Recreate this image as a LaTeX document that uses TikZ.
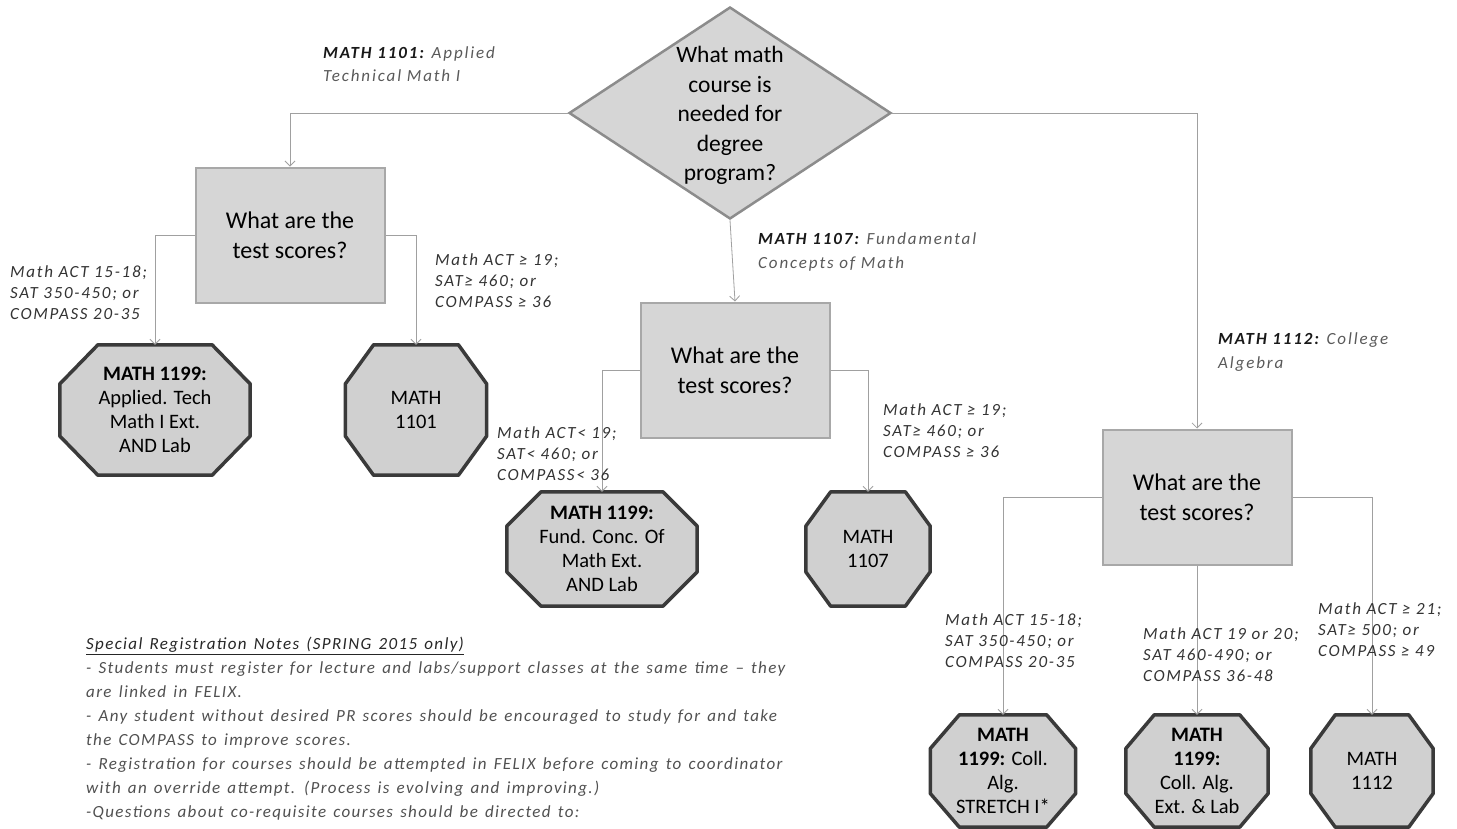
\documentclass[tikz,border=0pt]{standalone}
\usepackage{fontspec}
\setmainfont{Carlito}
\usetikzlibrary{shapes.geometric,arrows.meta,calc}
\pgfdeclarelayer{background}
\pgfsetlayers{background,main}
\definecolor{shade}{HTML}{D6D6D6}
\definecolor{octfill}{HTML}{D0D0D0}
\definecolor{octline}{HTML}{3A3A3A}
\definecolor{boxline}{HTML}{A8A8A8}
\definecolor{qline}{HTML}{8C8C8C}
\definecolor{wire}{HTML}{A0A0A0}
\definecolor{note}{HTML}{505050}
\tikzset{
  question/.style={diamond, draw=qline, line width=2.5pt, fill=shade, inner sep=0pt,
    minimum width=322pt, minimum height=212pt},
  scores/.style={rectangle, draw=boxline, line width=2pt, fill=shade, align=center,
    minimum width=189pt, minimum height=135pt, font=\fontsize{24}{29.5}\selectfont},
  stop/.style={rectangle, inner sep=0pt, align=center, font=\fontsize{20.5}{24}\selectfont},
  stopline/.style={draw=octline, line width=3.5pt, fill=octfill, line join=round},
  wire/.style={draw=wire, line width=0.8pt, -{Straight Barb[length=5pt,width=10pt]}},
  cond/.style={anchor=west, align=left, inner sep=0pt, text=black!80,
    font=\fontsize{17}{21}\selectfont\itshape\addfontfeature{LetterSpace=10}},
  course/.style={anchor=west, align=left, inner sep=0pt, text=black!65,
    font=\fontsize{17}{23.5}\selectfont\itshape\addfontfeature{LetterSpace=11}},
}
\begin{document}
\begin{tikzpicture}[x=1pt,y=-1pt]
  \useasboundingbox (0,0) rectangle (1457,828);
  % the first question
  \node[question] (q) at (730,113) {\smash{\makebox[0pt]{\raisebox{-9pt}{\fontsize{23.5}{29.5}\selectfont
    \begin{tabular}{@{}c@{}}What math\\course is\\needed for\\degree\\program?\end{tabular}}}}};
  % test score boxes
  \node[scores] (b1) at (290,235) {What are the\\test scores?};
  \node[scores] (b2) at (735,370) {What are the\\test scores?};
  \node[scores] (b3) at (1197,497) {What are the\\test scores?};
  % courses
  \node[stop, minimum width=190pt, minimum height=130pt] (o1) at (155,410)
    {\textbf{MATH 1199:}\\Applied. Tech\\Math I Ext.\\AND Lab};
  \node[stop, minimum width=141pt, minimum height=130pt] (o2) at (416,410) {MATH\\1101};
  \node[stop, minimum width=190pt, minimum height=114pt] (o3) at (602,549)
    {\textbf{MATH 1199:}\\Fund. Conc. Of\\Math Ext.\\AND Lab};
  \node[stop, minimum width=124pt, minimum height=114pt] (o4) at (868,549) {MATH\\1107};
  \node[stop, minimum width=145pt, minimum height=112pt] (o5) at (1003,771)
    {\textbf{MATH}\\\textbf{1199:} Coll.\\Alg.\\STRETCH I*};
  \node[stop, minimum width=142pt, minimum height=112pt] (o6) at (1197,771)
    {\textbf{MATH}\\\textbf{1199:}\\Coll. Alg.\\Ext. \& Lab};
  \node[stop, minimum width=122pt, minimum height=112pt] (o7) at (1372,771) {MATH\\1112};
  \begin{pgfonlayer}{background}
    \foreach \o in {o1,o2,o3,o4,o5,o6,o7}
      \path[stopline] let \p1=(\o.north west), \p2=(\o.south east),
        \n1={min(0.2*(\x2-\x1),0.3*(\y1-\y2))}, \n2={0.3*(\y1-\y2)} in
        (\x1+\n1,\y1) -- (\x2-\n1,\y1) -- (\x2,\y1-\n2) -- (\x2,\y2+\n2)
        -- (\x2-\n1,\y2) -- (\x1+\n1,\y2) -- (\x1,\y2+\n2) -- (\x1,\y1-\n2) -- cycle;
  \end{pgfonlayer}
  % connectors
  \draw[wire] (q.west) -| (b1.north);
  \draw[wire] (q.south) -- (b2.north);
  \draw[wire] (q.east) -| (b3.north);
  \draw[wire] (b1.west) -| (o1.north);
  \draw[wire] (b1.east) -| (o2.north);
  \draw[wire] (b2.west) -| (o3.north);
  \draw[wire] (b2.east) -| (o4.north);
  \draw[wire] (b3.west) -| (o5.north);
  \draw[wire] (b3.south) -- (o6.north);
  \draw[wire] (b3.east) -| (o7.north);
  % course names
  \node[course] (c1) at (323,64) {{\bfseries\color{black!90}MATH 1101:} Applied\\Technical Math I};
  \node[course] (c2) at (758,252) {{\bfseries\color{black!90}MATH 1107:} Fundamental\\Concepts of Math};
  \node[course] (c3) at (1218,352) {{\bfseries\color{black!90}MATH 1112:} College\\Algebra};
  % score ranges
  \node[cond] (s1) at (10,293) {Math ACT 15-18;\\SAT 350-450; or\\COMPASS 20-35};
  \node[cond] (s2) at (435,281) {Math ACT ≥ 19;\\SAT≥ 460; or\\COMPASS ≥ 36};
  \node[cond] (s3) at (497,454) {Math ACT< 19;\\SAT< 460; or\\COMPASS< 36};
  \node[cond] (s4) at (883,431) {Math ACT ≥ 19;\\SAT≥ 460; or\\COMPASS ≥ 36};
  \node[cond] (s5) at (945,641) {Math ACT 15-18;\\SAT 350-450; or\\COMPASS 20-35};
  \node[cond] (s6) at (1143,655) {Math ACT 19 or 20;\\SAT 460-490; or\\COMPASS 36-48};
  \node[cond] (s7) at (1318,630) {Math ACT ≥ 21;\\SAT≥ 500; or\\COMPASS ≥ 49};
  % notes
  \node[anchor=north west, align=left, inner sep=0pt, text=note,
    font={\fontsize{17}{24}\selectfont\itshape\addfontfeature{LetterSpace=8}\spaceskip=7.2pt plus 1pt}]
    (notes) at (86,637)
    {{\color{black!85}\underline{Special Registration Notes (SPRING 2015 only)}}\\
     - Students must register for lecture and labs/support classes at the same time -- they\\
     are linked in FELIX.\\
     - Any student without desired PR scores should be encouraged to study for and take\\
     the COMPASS to improve scores.\\
     - Registration for courses should be attempted in FELIX before coming to coordinator\\
     with an override attempt. (Process is evolving and improving.)\\
     -Questions about co-requisite courses should be directed to:};
\end{tikzpicture}
\end{document}
